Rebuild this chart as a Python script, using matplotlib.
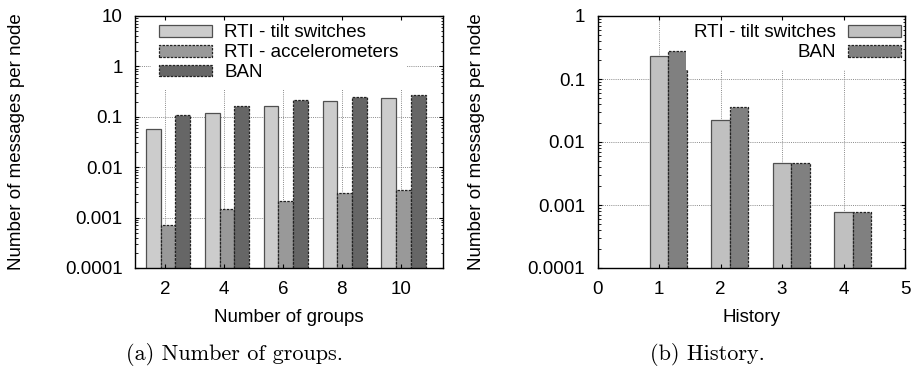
import numpy as np
import matplotlib
matplotlib.use("Agg")
import matplotlib.pyplot as plt
from matplotlib.ticker import LogLocator, NullFormatter, FuncFormatter

plt.rcParams['font.family'] = ['Liberation Sans', 'DejaVu Sans']
plt.rcParams['font.size'] = 13.5

# (a) number of groups
groups = [2, 4, 6, 8, 10]
tilt_groups = [0.057, 0.118, 0.167, 0.21, 0.234]
accel_groups = [0.00072, 0.00148, 0.0021, 0.00303, 0.00347]
ban_groups = [0.108, 0.165, 0.22, 0.252, 0.272]

# (b) history
history = [1, 2, 3, 4]
tilt_hist = [0.234, 0.0226, 0.00457, 0.00077]
ban_hist = [0.277, 0.0358, 0.00457, 0.00077]

labels_a = ['RTI - tilt switches', 'RTI - accelerometers', 'BAN']
labels_b = ['RTI - tilt switches', 'BAN']
ytick_a = [1e-4, 1e-3, 1e-2, 1e-1, 1, 10]
ytick_b = [1e-4, 1e-3, 1e-2, 1e-1, 1]

fig = plt.figure(figsize=(9.14, 3.68), dpi=100)
ax1 = fig.add_axes([135 / 914, 100 / 368, 308.3 / 914, 252 / 368])
ax2 = fig.add_axes([597.5 / 914, 100 / 368, 307.5 / 914, 252 / 368])

grid_kw = dict(color='#8a8a8a', linestyle=(0, (1, 1.2)), linewidth=0.7, zorder=0.5)
dash = (0, (2, 1))


def style_axis(ax, yticks, xticks):
    ax.set_yscale('log')
    ax.set_ylim(yticks[0], yticks[-1])
    ax.set_yticks(yticks)
    ax.yaxis.set_major_formatter(FuncFormatter(lambda v, p: f'{v:g}'))
    ax.yaxis.set_minor_locator(LogLocator(base=10, subs=range(2, 10)))
    ax.yaxis.set_minor_formatter(NullFormatter())
    ax.set_xticks(xticks)
    ax.set_axisbelow(False)
    ax.tick_params(which='both', direction='in', top=True, right=True, colors='black')
    ax.tick_params(which='major', length=3, width=0.8)
    ax.tick_params(which='minor', length=1.8, width=0.6)
    ax.tick_params(axis='y', pad=9)
    ax.tick_params(axis='x', pad=9)
    for s in ax.spines.values():
        s.set_linewidth(1.0)
    for y in yticks[1:-1]:
        ax.axhline(y, **grid_kw)
    for x in xticks:
        ax.axvline(x, **grid_kw)


# left plot
x = np.array(groups)
ax1.set_yscale('log')
ax1.bar(x - 0.4, tilt_groups, width=0.5, color='#cccccc', edgecolor='#505050',
        linewidth=0.9, label=labels_a[0], zorder=2)
ax1.bar(x + 0.1, accel_groups, width=0.5, color='#999999', edgecolor='#222222',
        linewidth=0.9, linestyle=dash, label=labels_a[1], zorder=2)
ax1.bar(x + 0.6, ban_groups, width=0.5, color='#666666', edgecolor='#222222',
        linewidth=0.9, linestyle=dash, label=labels_a[2], zorder=2)
ax1.set_xlim(0.98, 11.45)
style_axis(ax1, ytick_a, groups)
ax1.set_xlabel('Number of groups')
ax1.set_ylabel('Number of messages per node')
ax1.xaxis.set_label_coords(0.5, -0.161)
ax1.yaxis.set_label_coords(-0.357, 0.5)
leg1 = ax1.legend(loc='upper left', bbox_to_anchor=(0.052, 1.0), borderaxespad=0, borderpad=0.45,
                  handlelength=2.8, handleheight=0.6, handletextpad=0.65, labelspacing=0.15,
                  frameon=True, fancybox=False, edgecolor='none', facecolor='white', framealpha=1)
leg1.set_zorder(2.2)

# right plot
h = np.array(history)
ax2.set_yscale('log')
ax2.bar(h, tilt_hist, width=0.3, color='#c0c0c0', edgecolor='#505050',
        linewidth=0.9, label=labels_b[0], zorder=2)
ax2.bar(h + 0.3, ban_hist, width=0.3, color='#808080', edgecolor='#222222',
        linewidth=0.9, linestyle=dash, label=labels_b[1], zorder=2)
ax2.set_xlim(0, 5)
style_axis(ax2, ytick_b, [0, 1, 2, 3, 4, 5])
ax2.set_xlabel('History')
ax2.set_ylabel('Number of messages per node')
ax2.xaxis.set_label_coords(0.5, -0.161)
ax2.yaxis.set_label_coords(-0.366, 0.5)
leg2 = ax2.legend(loc='upper right', bbox_to_anchor=(1.013, 1.0), borderaxespad=0, borderpad=0.45,
                  handlelength=2.8, handleheight=0.6, handletextpad=0.65, labelspacing=0.15,
                  markerfirst=False, frameon=True, fancybox=False, edgecolor='none',
                  facecolor='white', framealpha=1)
leg2.set_zorder(2.2)

fig.text(0.257, 0.006, '(a) Number of groups.', family='cmr10', fontsize=16, ha='center', va='bottom')
fig.text(0.7735, 0.006, '(b) History.', family='cmr10', fontsize=16, ha='center', va='bottom')

fig.savefig('out.png', dpi=100)
